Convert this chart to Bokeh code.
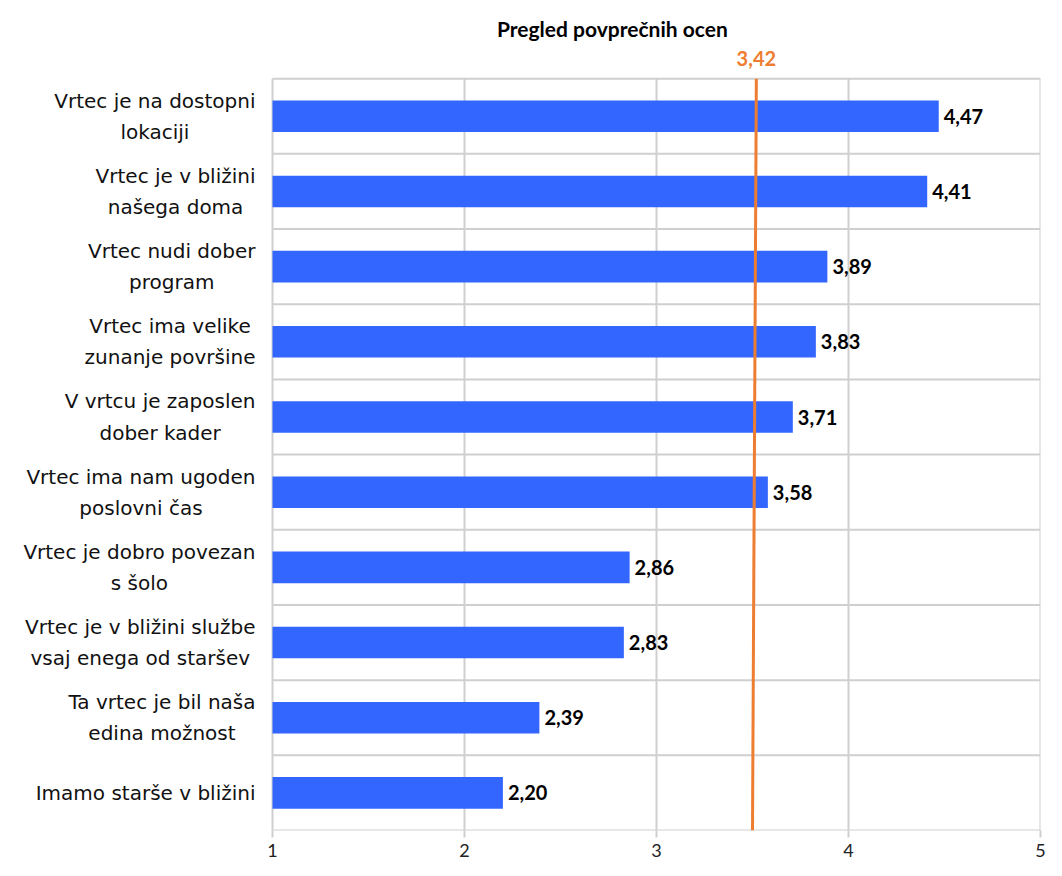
from bokeh.plotting import figure
from bokeh.models import ColumnDataSource, FixedTicker
from bokeh.core.properties import value
from bokeh.embed import file_html
from bokeh.resources import INLINE

# ---- data (top to bottom as shown) ----
categories = [
    "Vrtec je na dostopni\nlokaciji",
    "Vrtec je v bližini\nnašega doma",
    "Vrtec nudi dober\nprogram",
    "Vrtec ima velike\nzunanje površine",
    "V vrtcu je zaposlen\ndober kader",
    "Vrtec ima nam ugoden\nposlovni čas",
    "Vrtec je dobro povezan\ns šolo",
    "Vrtec je v bližini službe\nvsaj enega od staršev",
    "Ta vrtec je bil naša\nedina možnost",
    "Imamo starše v bližini",
]
scores = [4.47, 4.41, 3.89, 3.83, 3.71, 3.58, 2.86, 2.83, 2.39, 2.20]
x_ticks = [1, 2, 3, 4, 5]
avg_value = 3.42
avg_line_x = [3.50, 3.52]
avg_line_y = [0, 10]
title_text = "Pregled povprečnih ocen"

FONT = "Lato"
CAT_FONT = "DejaVu Sans"
BAR = "#3366FF"
ORANGE = "#ED7D31"
GRID = "#CFCFCF"

n = len(categories)
ypos = [n - i - 0.5 for i in range(n)]
labels = [f"{v:.2f}".replace(".", ",") for v in scores]
xmin, xmax = x_ticks[0], x_ticks[-1]

src = ColumnDataSource(dict(y=ypos, v=scores, lab=labels, left=[xmin] * n, cat=categories))

# frame covers the label area too, so that texts are not clipped
p = figure(width=1046, height=860, x_range=(-0.4167, xmax), y_range=(0, n + 1.04),
           output_backend="svg", toolbar_location=None,
           min_border_left=0, min_border_right=6, min_border_top=0, min_border_bottom=30)
p.background_fill_color = "white"
p.border_fill_color = "white"
p.outline_line_color = None
p.grid.visible = False
p.yaxis.visible = False

# grid lines (category borders and value ticks)
hy = list(range(n + 1))
p.segment(x0=[xmin] * len(hy), x1=[xmax] * len(hy), y0=hy, y1=hy, line_color=GRID, line_width=2)
p.segment(x0=x_ticks, x1=x_ticks, y0=[0] * len(x_ticks), y1=[n] * len(x_ticks),
          line_color=GRID, line_width=2)

p.hbar(y="y", left="left", right="v", height=0.42, source=src, color=BAR, line_color=None)

p.text(x="v", y="y", text="lab", source=src, x_offset=5, text_align="left",
       text_baseline="middle", text_font=value(FONT), text_font_style="bold",
       text_font_size="20px", text_color="black")

p.line(avg_line_x, avg_line_y, line_color=ORANGE, line_width=3)

# category labels: box right-aligned to the axis, lines centered
p.text(x="left", y="y", text="cat", source=src, x_offset=-17, anchor="center_right",
       text_align="center", text_baseline="middle", text_font=value(CAT_FONT),
       text_font_size="20px", text_color="#111111", text_line_height=1.3)

# average label
p.text(x=[avg_line_x[-1]], y=[n], text=[f"{avg_value:.2f}".replace(".", ",")], y_offset=-20,
       text_align="center", text_baseline="middle", text_font=value(FONT),
       text_font_style="bold", text_font_size="20px", text_color=ORANGE)

# title
p.text(x=[2.77], y=[n], text=[title_text], y_offset=-50, text_align="center",
       text_baseline="middle", text_font=value(FONT), text_font_style="bold",
       text_font_size="21px", text_color="black")

# x axis: ticks and labels only
p.xaxis.ticker = FixedTicker(ticks=x_ticks)
p.xaxis.axis_line_color = None
p.xaxis.major_tick_line_color = GRID
p.xaxis.major_tick_line_width = 2
p.xaxis.major_tick_out = 7
p.xaxis.major_tick_in = 0
p.xaxis.minor_tick_line_color = None
p.xaxis.major_label_standoff = 6
p.xaxis.major_label_text_font = FONT
p.xaxis.major_label_text_font_size = "18px"
p.xaxis.major_label_text_color = "#222222"

open("out.html", "w").write(file_html(p, INLINE))
